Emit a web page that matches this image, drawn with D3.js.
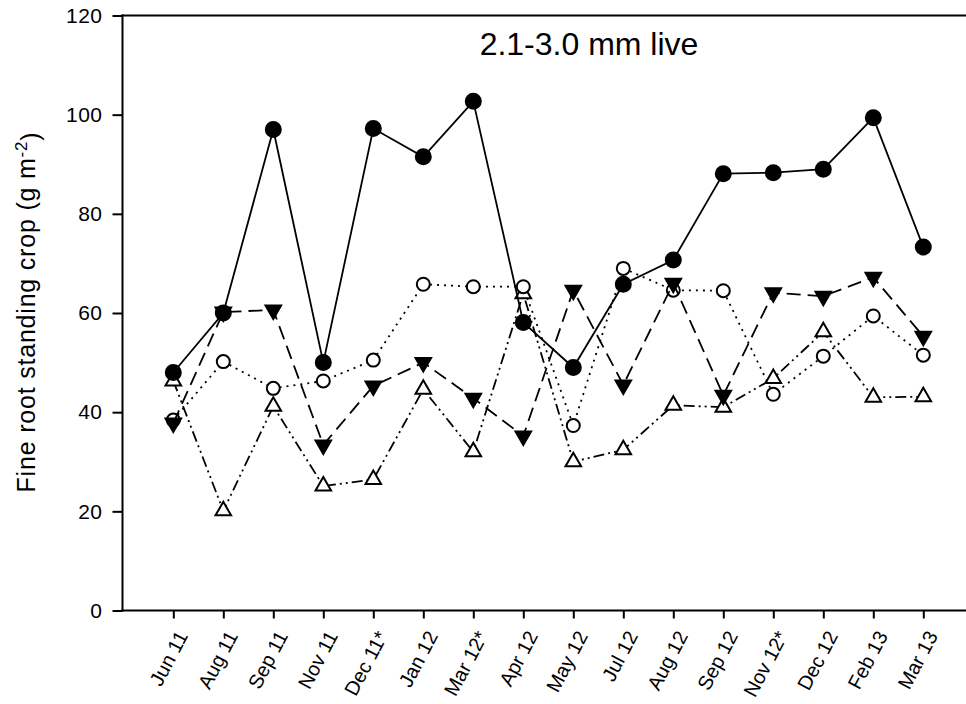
<!DOCTYPE html>
<html>
<head>
<meta charset="utf-8">
<script src="https://cdn.jsdelivr.net/npm/d3@7"></script>
<style>
  body { margin: 0; background: #fff; }
  text { font-family: "Liberation Sans", Arial, sans-serif; fill: #000; }
</style>
</head>
<body>
<div class="container"></div>
<script>
var months = ['Jun 11', 'Aug 11', 'Sep 11', 'Nov 11', 'Dec 11*', 'Jan 12', 'Mar 12*', 'Apr 12',
  'May 12', 'Jul 12', 'Aug 12', 'Sep 12', 'Nov 12*', 'Dec 12', 'Feb 13', 'Mar 13'];

// four treatments
var filledCircle = [48.0, 60.0, 97.0, 50.0, 97.2, 91.5, 102.7, 58.1, 49.0, 65.8, 70.7, 88.1, 88.3, 89.0, 99.4, 73.3];
var filledTriangle = [37.8, 60.2, 60.6, 33.4, 45.3, 50.0, 42.8, 35.2, 64.6, 45.5, 66.0, 43.4, 64.1, 63.4, 67.2, 55.3];
var openCircle = [38.4, 50.2, 44.8, 46.3, 50.5, 65.8, 65.3, 65.3, 37.3, 69.0, 64.6, 64.5, 43.6, 51.3, 59.4, 51.5];
var openTriangle = [46.3, 20.1, 41.2, 25.1, 26.4, 44.6, 32.0, 63.9, 30.0, 32.4, 41.4, 41.0, 46.8, 56.2, 43.0, 43.1];

var yTicks = [0, 20, 40, 60, 80, 100, 120];

buildChart();

function buildChart() {

  var w = 966;
  var h = 704;
  var left = 122.5, top = 15.5, bottom = 610.5;

  var svg = d3.select('.container')
    .append('svg')
    .attr('width', w)
    .attr('height', h);

  var xScale = d3.scalePoint()
    .domain(months)
    .range([173.3, 923.3]);

  var yScale = d3.scaleLinear()
    .domain([0, 120])
    .range([bottom, top]);

  /* Axes */

  var yAxis = d3.axisLeft(yScale)
    .tickValues(yTicks)
    .tickSize(10)
    .tickPadding(10);

  var gy = svg.append('g')
    .attr('transform', 'translate(' + left + ',0)')
    .call(yAxis);
  gy.select('.domain').remove();
  gy.selectAll('line').attr('stroke', '#000').attr('stroke-width', 2);
  gy.selectAll('text').style('font-size', '21px').style('letter-spacing', '0.5px');

  var xAxis = d3.axisBottom(xScale)
    .tickSize(8)
    .tickFormat('');

  var gx = svg.append('g')
    .attr('transform', 'translate(0,' + bottom + ')')
    .call(xAxis);
  gx.select('.domain').remove();
  gx.selectAll('line').attr('stroke', '#000').attr('stroke-width', 2);

  // rotated month labels
  svg.append('g')
    .selectAll('text')
    .data(months)
    .enter()
    .append('text')
    .attr('text-anchor', 'end')
    .attr('transform', function(d) {
      return 'translate(' + (xScale(d) + 9) + ',' + (bottom + 22) + ') rotate(-62)';
    })
    .attr('dy', '0.35em')
    .style('font-size', '20px')
    .text(function(d) { return d; });

  // frame: left, bottom and top lines
  svg.append('line').attr('x1', left).attr('x2', left).attr('y1', top - 1).attr('y2', bottom + 1)
    .attr('stroke', '#000').attr('stroke-width', 2);
  svg.append('line').attr('x1', left - 1).attr('x2', w).attr('y1', bottom).attr('y2', bottom)
    .attr('stroke', '#000').attr('stroke-width', 2);
  svg.append('line').attr('x1', left - 1).attr('x2', w).attr('y1', top).attr('y2', top)
    .attr('stroke', '#000').attr('stroke-width', 2);

  /* Titles */

  svg.append('text')
    .attr('x', 589)
    .attr('y', 55)
    .attr('text-anchor', 'middle')
    .style('font-size', '32px')
    .text('2.1-3.0 mm live');

  var ylab = svg.append('text')
    .attr('transform', 'translate(35,' + 312 + ') rotate(-90)')
    .attr('text-anchor', 'middle')
    .style('font-size', '25px')
    .style('letter-spacing', '0.8px');
  ylab.append('tspan').text('Fine root standing crop (g m');
  ylab.append('tspan').attr('dy', '-0.5em').style('font-size', '17px').text('-2');
  ylab.append('tspan').attr('dy', '0.5em').text(')');

  /* Series */

  var series = [
    { values: openTriangle, dash: '11,4,2,4,2,4', marker: 'tri-up', fill: '#fff' },
    { values: openCircle, dash: '2,5', marker: 'circle', fill: '#fff' },
    { values: filledTriangle, dash: '14,7', marker: 'tri-down', fill: '#000' },
    { values: filledCircle, dash: null, marker: 'circle', fill: '#000' }
  ];

  var line = d3.line()
    .x(function(d, i) { return xScale(months[i]); })
    .y(function(d) { return yScale(d); });

  var tri = d3.symbol().type(d3.symbolTriangle).size(105);

  series.forEach(function(s) {
    svg.append('path')
      .datum(s.values)
      .attr('d', line)
      .attr('fill', 'none')
      .attr('stroke', '#000')
      .attr('stroke-width', 1.8)
      .attr('stroke-dasharray', s.dash);

    var pts = svg.append('g')
      .selectAll('.pt')
      .data(s.values)
      .enter();

    if (s.marker == 'circle') {
      pts.append('circle')
        .attr('cx', function(d, i) { return xScale(months[i]); })
        .attr('cy', function(d) { return yScale(d); })
        .attr('r', s.fill == '#000' ? 7.5 : 6.5)
        .attr('fill', s.fill)
        .attr('stroke', '#000')
        .attr('stroke-width', 2);
    } else {
      pts.append('path')
        .attr('d', tri)
        .attr('transform', function(d, i) {
          return 'translate(' + xScale(months[i]) + ',' + yScale(d) + ')' +
            (s.marker == 'tri-down' ? ' rotate(180)' : '');
        })
        .attr('fill', s.fill)
        .attr('stroke', '#000')
        .attr('stroke-width', 2);
    }
  });
}
</script>
</body>
</html>
